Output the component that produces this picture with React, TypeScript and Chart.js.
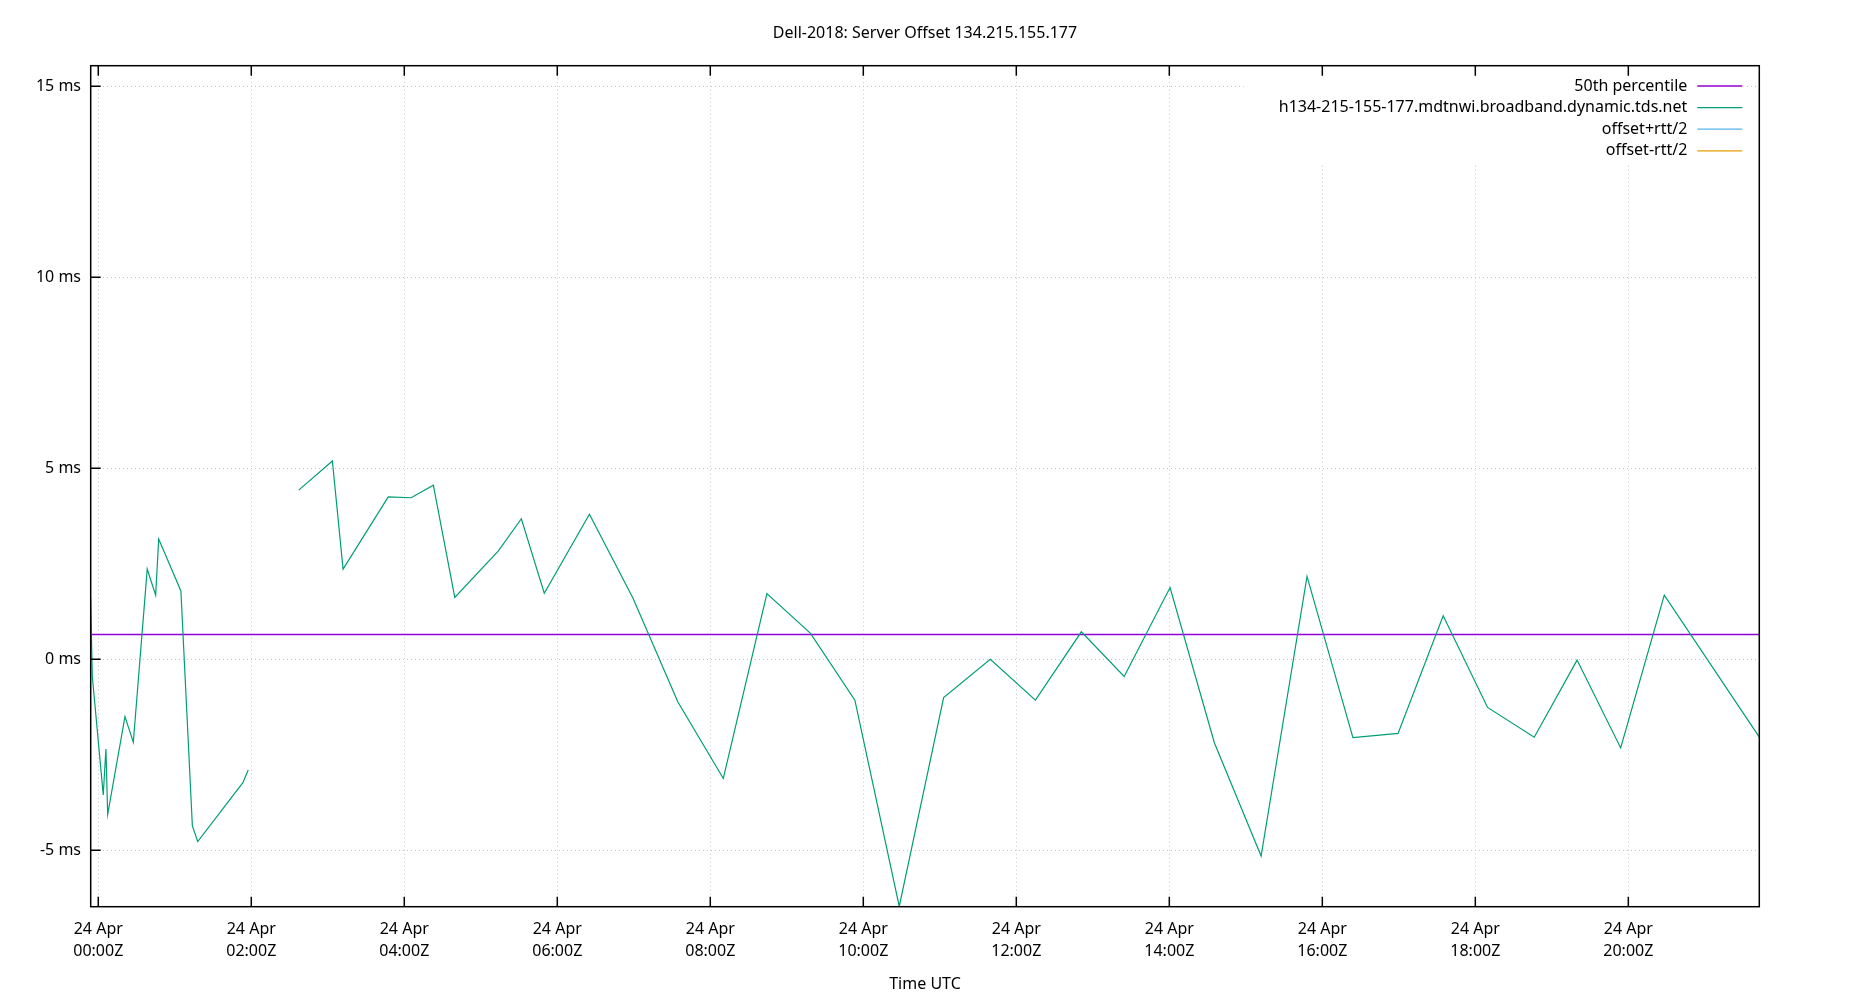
import React, { useEffect, useRef } from "react";
import { Chart, registerables } from "chart.js";

Chart.register(...registerables);

// hours after 24 Apr 00:00Z, and server offset in ms (null = gap in data)
const hours = [
  -0.1, -0.078, 0.065, 0.1, 0.123, 0.349, 0.458, 0.64, 0.75, 0.79, 1.08, 1.23,
  1.3, 1.89, 1.96, 2.3, 2.62, 3.06, 3.2, 3.79, 4.09, 4.38, 4.66, 5.23, 5.53,
  5.83, 6.42, 6.99, 7.575, 8.17, 8.74, 9.31, 9.89, 10.47, 11.05, 11.66, 12.25,
  12.85, 13.41, 14.01, 14.59, 15.2, 15.8, 16.4, 16.99, 17.58, 18.16, 18.77,
  19.33, 19.9, 20.47, 21.71,
];
const offsetMs: (number | null)[] = [
  1.6, -0.45, -3.55, -2.35, -4.06, -1.5, -2.17, 2.36, 1.68, 3.15, 1.79, -4.36,
  -4.77, -3.23, -2.9, null, 4.43, 5.19, 2.36, 4.25, 4.23, 4.56, 1.62, 2.84,
  3.68, 1.73, 3.8, 1.6, -1.11, -3.12, 1.72, 0.68, -1.07, -6.47, -1.0, 0.0,
  -1.07, 0.72, -0.45, 1.88, -2.19, -5.15, 2.17, -2.05, -1.94, 1.14, -1.26,
  -2.04, -0.02, -2.32, 1.68, -2.03,
];
const percentile50 = 0.65;

const xTickHours = [0, 2, 4, 6, 8, 10, 12, 14, 16, 18, 20];
const yTickMs = [-5, 0, 5, 10, 15];
const xMin = -0.099;
const xMax = 21.712;
const yMin = -6.476;
const yMax = 15.54;

const chartTitle = "Dell-2018: Server Offset 134.215.155.177";
const hostName = "h134-215-155-177.mdtnwi.broadband.dynamic.tds.net";
const FONT = '"Noto Sans", sans-serif';

// gnuplot style title, frame, inward ticks and key box
const gnuplotFrame = {
  id: "gnuplotFrame",
  beforeDatasetsDraw(chart: any) {
    const { ctx, chartArea } = chart;
    ctx.save();
    ctx.font = `16px ${FONT}`;
    const labels = chart.data.datasets.map((d: any) => d.label);
    const maxW = Math.max(...labels.map((l: string) => ctx.measureText(l).width));
    const textRight = chartArea.right - 72;
    ctx.fillStyle = "#ffffff";
    ctx.fillRect(textRight - maxW - 35, chartArea.top + 1, maxW + 35 + 58, 98);
    ctx.restore();
  },
  afterDraw(chart: any) {
    const { ctx, chartArea, scales } = chart;
    const { left, right, top, bottom } = chartArea;
    ctx.save();

    ctx.font = `16px ${FONT}`;
    ctx.fillStyle = "#000000";
    ctx.textAlign = "center";
    ctx.textBaseline = "middle";
    ctx.fillText(chartTitle, (left + right) / 2, 33);

    ctx.strokeStyle = "#000000";
    ctx.lineWidth = 1.5;
    ctx.strokeRect(left, top, right - left, bottom - top);
    ctx.beginPath();
    scales.x.ticks.forEach((t: any) => {
      const px = scales.x.getPixelForValue(t.value);
      ctx.moveTo(px, bottom);
      ctx.lineTo(px, bottom - 10);
      ctx.moveTo(px, top);
      ctx.lineTo(px, top + 10);
    });
    scales.y.ticks.forEach((t: any) => {
      const py = scales.y.getPixelForValue(t.value);
      ctx.moveTo(left, py);
      ctx.lineTo(left + 10, py);
    });
    ctx.stroke();

    // key
    ctx.textAlign = "right";
    chart.data.datasets.forEach((d: any, i: number) => {
      const y = top + 20.3 + i * 21.6;
      ctx.fillStyle = "#000000";
      ctx.fillText(d.label, right - 72, y);
      ctx.strokeStyle = d.borderColor;
      ctx.lineWidth = 1.3;
      ctx.beginPath();
      ctx.moveTo(right - 62, y);
      ctx.lineTo(right - 17, y);
      ctx.stroke();
    });
    ctx.restore();
  },
};

const App: React.FC = () => {
  const chartRef = useRef<HTMLCanvasElement | null>(null);
  const chartInstance = useRef<Chart | null>(null);

  useEffect(() => {
    if (!chartRef.current) return;
    if (chartInstance.current) chartInstance.current.destroy();

    Chart.defaults.font.family = FONT;
    Chart.defaults.color = "#000000";

    const hostPoints = hours.map((h, i) => ({ x: h, y: offsetMs[i] }));

    chartInstance.current = new Chart(chartRef.current, {
      type: "line",
      data: {
        datasets: [
          {
            label: "50th percentile",
            data: [
              { x: xMin, y: percentile50 },
              { x: xMax, y: percentile50 },
            ],
            borderColor: "#9400d3",
            borderWidth: 1.5,
            order: 2,
          },
          {
            label: hostName,
            data: hostPoints as any,
            borderColor: "#009e73",
            borderWidth: 1.2,
            order: 1,
          },
          {
            label: "offset+rtt/2",
            data: [],
            borderColor: "#56b4e9",
            borderWidth: 1.2,
          },
          {
            label: "offset-rtt/2",
            data: [],
            borderColor: "#e69f00",
            borderWidth: 1.2,
          },
        ],
      },
      options: {
        responsive: false,
        animation: false,
        devicePixelRatio: 1,
        spanGaps: false,
        layout: { padding: { left: 0, right: 90.7, top: 65.7, bottom: 0 } },
        elements: {
          point: { radius: 0 },
          line: { tension: 0 },
        },
        datasets: { line: { clip: 0 } as any },
        plugins: {
          legend: { display: false },
          tooltip: { enabled: false },
          title: { display: false },
        },
        scales: {
          x: {
            type: "linear",
            min: xMin,
            max: xMax,
            afterBuildTicks: (scale: any) => {
              scale.ticks = xTickHours.map((v) => ({ value: v }));
            },
            afterFit: (scale: any) => {
              scale.height = 93.3;
            },
            ticks: {
              autoSkip: false,
              maxRotation: 0,
              padding: 12,
              font: { size: 16, lineHeight: 1.356 },
              color: "#000000",
              callback: (v: any) => {
                const hh = String(Math.round(Number(v))).padStart(2, "0");
                return ["24 Apr", `${hh}:00Z`];
              },
            },
            grid: {
              color: "#c4c4c4",
              lineWidth: 1,
              drawTicks: false,
            },
            border: { display: false, dash: [1, 3] },
            title: {
              display: true,
              text: "Time UTC",
              font: { size: 16 },
              color: "#000000",
              padding: { top: 0, bottom: 6.4 },
            },
          },
          y: {
            type: "linear",
            min: yMin,
            max: yMax,
            afterBuildTicks: (scale: any) => {
              scale.ticks = yTickMs.map((v) => ({ value: v }));
            },
            afterFit: (scale: any) => {
              scale.width = 90.7;
            },
            ticks: {
              padding: 9.7,
              font: { size: 16 },
              color: "#000000",
              callback: (v: any) => `${v} ms`,
            },
            grid: {
              color: "#c4c4c4",
              lineWidth: 1,
              drawTicks: false,
            },
            border: { display: false, dash: [1, 3] },
          },
        },
      },
      plugins: [gnuplotFrame],
    });

    return () => {
      if (chartInstance.current) {
        chartInstance.current.destroy();
        chartInstance.current = null;
      }
    };
  }, []);

  return (
    <div
      style={{
        position: "absolute",
        left: 0,
        top: 0,
        width: 1850,
        height: 1000,
        background: "#ffffff",
      }}
    >
      <canvas ref={chartRef} width={1850} height={1000} />
    </div>
  );
};

export default App;
